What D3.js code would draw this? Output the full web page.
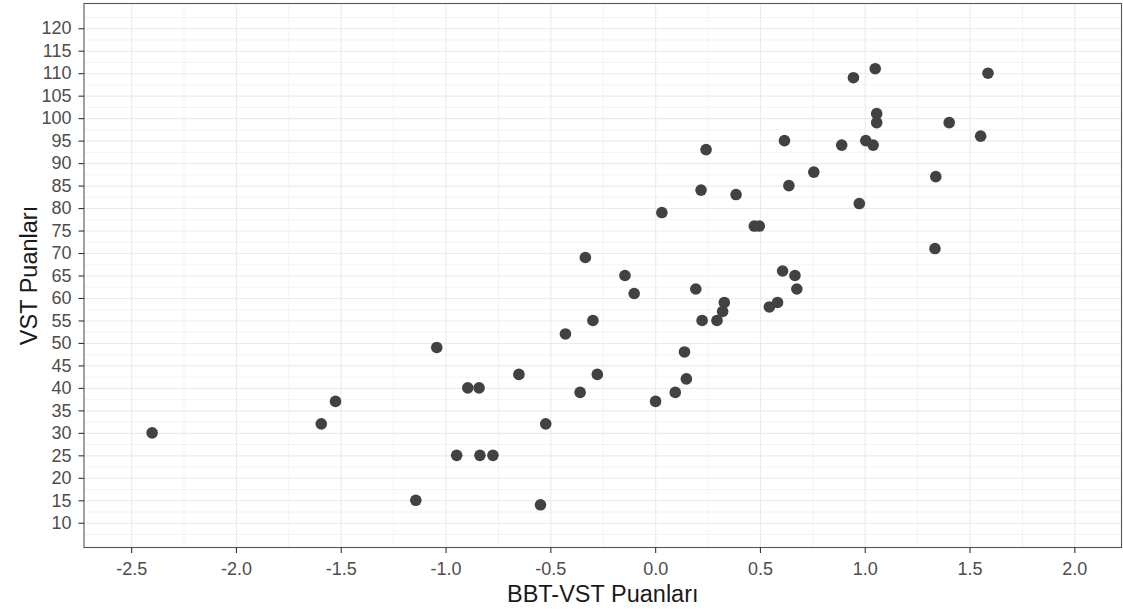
<!DOCTYPE html>
<html>
<head>
<meta charset="utf-8">
<script src="https://cdn.jsdelivr.net/npm/d3@7"></script>
<style>
  html, body { margin: 0; padding: 0; background: #fff; }
  svg { display: block; }
  text { font-family: "Liberation Sans", Arial, Helvetica, sans-serif; }
</style>
</head>
<body>
<svg id="chart" width="1123" height="612"></svg>
<script>
// BBT-VST scores (x) and VST scores (y)
const bbtVst = [-2.40, -1.593, -1.525, -1.142, -1.042, -0.947, -0.894, -0.840, -0.836, -0.774,
  -0.650, -0.547, -0.522, -0.428, -0.358, -0.333, -0.297, -0.276, -0.144, -0.100,
  0.002, 0.032, 0.096, 0.140, 0.149, 0.194, 0.219, 0.224, 0.243, 0.295,
  0.322, 0.330, 0.386, 0.473, 0.497, 0.545, 0.584, 0.608, 0.617, 0.638,
  0.667, 0.676, 0.757, 0.890, 0.946, 0.974, 1.005, 1.040, 1.050, 1.057,
  1.057, 1.335, 1.339, 1.403, 1.553, 1.588];
const vst = [30, 32, 37, 15, 49, 25, 40, 40, 25, 25,
  43, 14, 32, 52, 39, 69, 55, 43, 65, 61,
  37, 79, 39, 48, 42, 62, 84, 55, 93, 55,
  57, 59, 83, 76, 76, 58, 59, 66, 95, 85,
  65, 62, 88, 94, 109, 81, 95, 94, 111, 101,
  99, 71, 87, 99, 96, 110];
const xTicks = [-2.5, -2.0, -1.5, -1.0, -0.5, 0.0, 0.5, 1.0, 1.5, 2.0];
const yTicks = [10, 15, 20, 25, 30, 35, 40, 45, 50, 55, 60, 65, 70, 75, 80, 85, 90, 95, 100, 105, 110, 115, 120];
const xTitle = "BBT-VST Puanları";
const yTitle = "VST Puanları";

const svg = d3.select("#chart");
const panel = { left: 84, top: 3.5, right: 1121.5, bottom: 547.5 };

// limits with 5% expansion as in ggplot
const xLim = [-2.5, 2.0], yLim = [10, 120];
const xe = (xLim[1] - xLim[0]) * 0.05, ye = (yLim[1] - yLim[0]) * 0.05;
const x = d3.scaleLinear().domain([xLim[0] - xe, xLim[1] + xe]).range([panel.left, panel.right]);
const y = d3.scaleLinear().domain([yLim[0] - ye, yLim[1] + ye]).range([panel.bottom, panel.top]);

const W = panel.right - panel.left, H = panel.bottom - panel.top;
const g = svg.append("g");

// minor gridlines (midpoints)
const xMinor = d3.range(xLim[0] - 0.25, xLim[1] + 0.26, 0.5).filter(v => v > x.domain()[0] && v < x.domain()[1]);
const yMinor = d3.range(yLim[0] - 2.5, yLim[1] + 2.6, 5).filter(v => v > y.domain()[0] && v < y.domain()[1]);

g.append("g").attr("transform", `translate(0,${panel.bottom})`)
  .call(d3.axisBottom(x).tickValues(xMinor).tickSize(-H).tickFormat(""))
  .call(s => s.select(".domain").remove())
  .call(s => s.selectAll("line").attr("stroke", "#ebebeb").attr("stroke-width", 0.6));
g.append("g").attr("transform", `translate(${panel.left},0)`)
  .call(d3.axisLeft(y).tickValues(yMinor).tickSize(-W).tickFormat(""))
  .call(s => s.select(".domain").remove())
  .call(s => s.selectAll("line").attr("stroke", "#ebebeb").attr("stroke-width", 0.6));

// major gridlines
g.append("g").attr("transform", `translate(0,${panel.bottom})`)
  .call(d3.axisBottom(x).tickValues(xTicks).tickSize(-H).tickFormat(""))
  .call(s => s.select(".domain").remove())
  .call(s => s.selectAll("line").attr("stroke", "#ebebeb").attr("stroke-width", 1.1));
g.append("g").attr("transform", `translate(${panel.left},0)`)
  .call(d3.axisLeft(y).tickValues(yTicks).tickSize(-W).tickFormat(""))
  .call(s => s.select(".domain").remove())
  .call(s => s.selectAll("line").attr("stroke", "#ebebeb").attr("stroke-width", 1.1));

// points
g.append("g").selectAll("circle")
  .data(bbtVst.map((v, i) => [v, vst[i]]))
  .join("circle")
  .attr("cx", d => x(d[0]))
  .attr("cy", d => y(d[1]))
  .attr("r", 5.8)
  .attr("fill", "#424242");

// panel border
g.append("rect")
  .attr("x", panel.left).attr("y", panel.top)
  .attr("width", W).attr("height", H)
  .attr("fill", "none").attr("stroke", "#555").attr("stroke-width", 1.1);

// axes
const xAxis = g.append("g").attr("transform", `translate(0,${panel.bottom})`)
  .call(d3.axisBottom(x).tickValues(xTicks).tickSize(5.5).tickPadding(9).tickFormat(d3.format(".1f")));
xAxis.select(".domain").remove();
xAxis.selectAll("line").attr("stroke", "#333").attr("stroke-width", 1.1);
xAxis.selectAll("text").attr("fill", "#4d4d4d").attr("font-size", 18)
  .attr("font-family", "Liberation Sans, Arial, sans-serif")
  .text(d => d3.format(".1f")(d).replace("−", "-"));

const yAxis = g.append("g").attr("transform", `translate(${panel.left},0)`)
  .call(d3.axisLeft(y).tickValues(yTicks).tickSize(5.5).tickPadding(7));
yAxis.select(".domain").remove();
yAxis.selectAll("line").attr("stroke", "#333").attr("stroke-width", 1.1);
yAxis.selectAll("text").attr("fill", "#4d4d4d").attr("font-size", 18)
  .attr("font-family", "Liberation Sans, Arial, sans-serif");

// titles
svg.append("text")
  .attr("x", (panel.left + panel.right) / 2)
  .attr("y", 602)
  .attr("text-anchor", "middle")
  .attr("font-size", 23.5)
  .attr("fill", "#1a1a1a")
  .text(xTitle);

svg.append("text")
  .attr("transform", `translate(37,${(panel.top + panel.bottom) / 2}) rotate(-90)`)
  .attr("text-anchor", "middle")
  .attr("font-size", 23.5)
  .attr("fill", "#1a1a1a")
  .text(yTitle);
</script>
</body>
</html>
